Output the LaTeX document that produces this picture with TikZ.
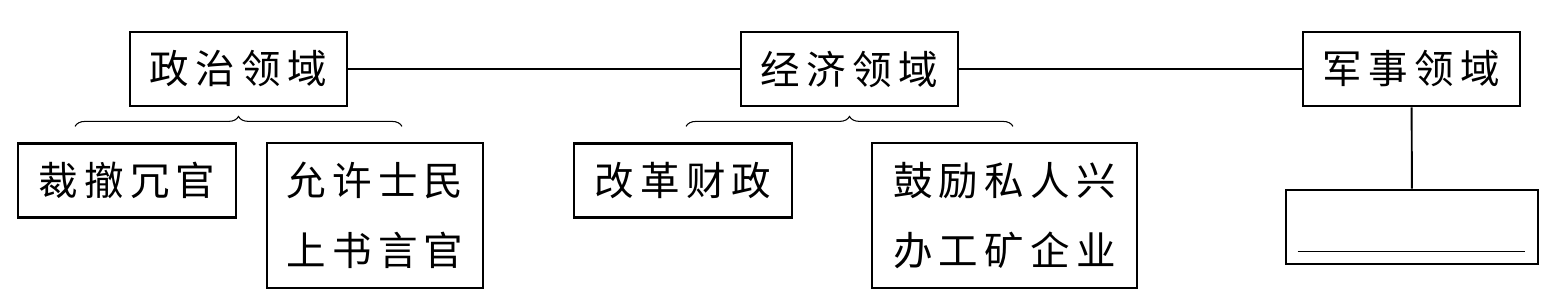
\documentclass[tikz,border=0pt]{standalone}
\usepackage{fontspec}
\newfontfamily\cjk[LetterSpace=16]{Noto Sans CJK SC}
\usetikzlibrary{decorations.pathreplacing}

\begin{document}
\begin{tikzpicture}[x=0.02cm,y=-0.02cm,
  box/.style={draw,line width=1.6pt,inner sep=0pt,minimum width=4.34cm,minimum height=1.48cm,
    align=center,font=\cjk\fontsize{22.5pt}{40pt}\selectfont},
  tallbox/.style={box,minimum height=2.9cm},
  link/.style={line width=1.1pt},
  brace/.style={decorate,decoration={brace,amplitude=0.2cm},line width=0.6pt}]
  \useasboundingbox (0,0) rectangle (1554,298);
  % top row
  \node[box] (pol) at (238.5,69) {政治领域};
  \node[box] (eco) at (849.5,69) {经济领域};
  \node[box] (mil) at (1411.5,69) {军事领域};
  \draw[link] (pol) -- (eco);
  \draw[link] (eco) -- (mil);
  % braces
  \draw[brace] ([xshift=-3.27cm,yshift=-0.38cm]pol.south) -- ([xshift=3.27cm,yshift=-0.38cm]pol.south);
  \draw[brace] ([xshift=-3.27cm,yshift=-0.38cm]eco.south) -- ([xshift=3.27cm,yshift=-0.38cm]eco.south);
  % lower row
  \node[box,minimum width=4.36cm] (cut) at (127,180.5) {裁撤冗官};
  \node[tallbox,minimum width=4.32cm] (allow) at (375,215.5) {允许士民\\上书言官};
  \node[box,minimum width=4.36cm] (fin) at (683,180.5) {改革财政};
  \node[tallbox,minimum width=5.3cm] (mine) at (1004.5,215.5) {鼓励私人兴\\办工矿企业};
  \node[box,minimum width=5.04cm] (blank) at (1412,227) {};
  \draw[link] (mil) -- (blank);
  \draw[line width=0.8pt] ([xshift=0.26cm,yshift=0.28cm]blank.south west) -- ([xshift=-0.28cm,yshift=0.28cm]blank.south east);
\end{tikzpicture}
\end{document}
